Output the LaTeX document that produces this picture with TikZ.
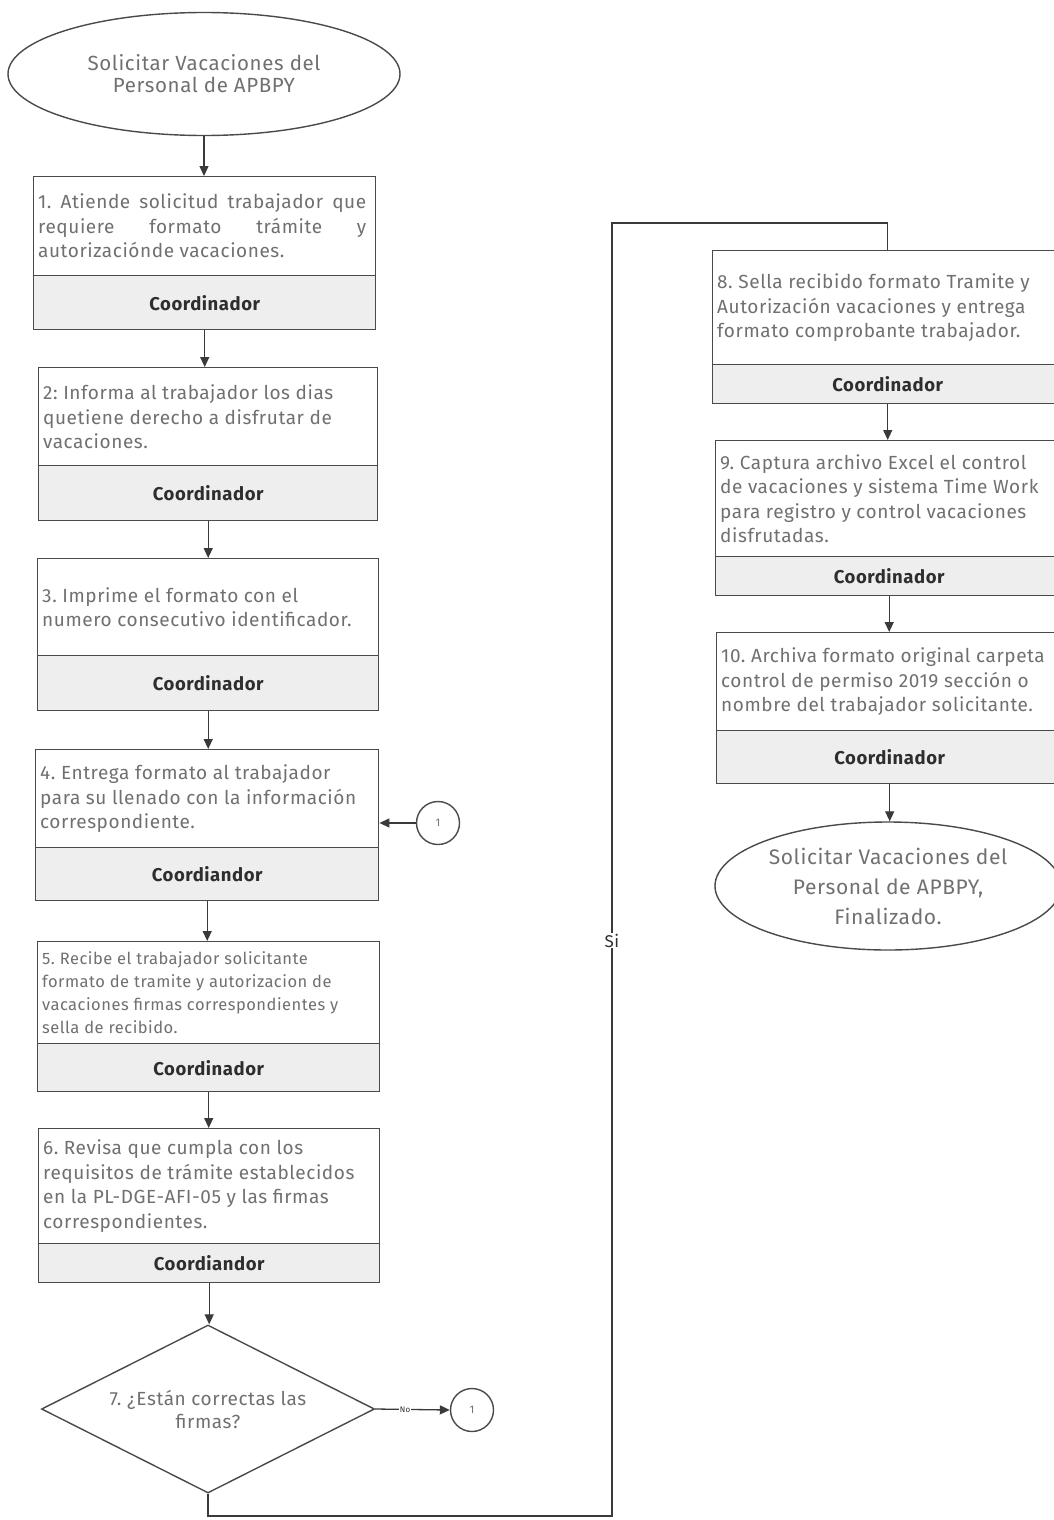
\documentclass[tikz,border=0pt]{standalone}
\usepackage{fontspec}
\setmainfont{Fira Sans}[LetterSpace=3.0]
\usetikzlibrary{arrows.meta,shapes.geometric}
\frenchspacing
\definecolor{boxline}{HTML}{4A4A4A}
\definecolor{band}{HTML}{EEEEEE}
\definecolor{bodytext}{HTML}{707070}
\definecolor{roletext}{HTML}{2E2E2E}
\definecolor{linecol}{HTML}{3A3A3A}
\newcommand{\bodyfont}{\fontsize{19}{24.5}\selectfont}
\newcommand{\smallbody}{\fontsize{16.5}{23}\selectfont}
\newcommand{\rolefont}{\fontsize{18.5}{20}\selectfont\bfseries}
% process box: name, left, right, top, divider, bottom, role, text font, text
\newcommand{\procbox}[9]{%
  \node[textpart, minimum width={#3-#2}, minimum height={#5-#4}, anchor=north west] (#1) at (#2,#4) {};
  \node[rolepart, minimum width={#3-#2}, minimum height={#6-#5}, anchor=north west] (#1r) at (#2,#5) {#7};
  \node[body, font=#8, xshift=5pt] (#1t) at (#1.west) {#9};
}
\tikzset{
  textpart/.style={draw=boxline, line width=1.4pt, fill=white, inner sep=0pt},
  rolepart/.style={draw=boxline, line width=1.4pt, fill=band, inner sep=0pt, font=\rolefont, text=roletext},
  body/.style={anchor=west, align=left, inner sep=0pt, text=bodytext},
  terminal/.style={ellipse, draw=boxline, line width=1.4pt, inner sep=0pt, align=center, text=bodytext},
  decision/.style={diamond, draw=boxline, line width=1.4pt, inner sep=0pt, aspect=2, align=center, text=bodytext, font=\fontsize{19}{23}\selectfont},
  connector/.style={circle, draw=boxline, line width=1.4pt, inner sep=0pt, minimum size=43pt, text=bodytext, font=\fontsize{11}{12}\selectfont},
  arr/.style={draw=linecol, line width=1.3pt, -{Triangle[length=10pt,width=9pt]}},
  conn/.style={draw=linecol, line width=1.3pt},
  lbl/.style={fill=white, inner sep=1pt, text=roletext},
}
\begin{document}
\begin{tikzpicture}[x=1pt,y=-1pt]
\useasboundingbox (0,0) rectangle (1054,1520);

% left column
\node[terminal, minimum width=392pt, minimum height=123pt, font=\fontsize{20.5}{22}\selectfont] (start) at (204,74)
  {Solicitar Vacaciones del\\Personal de APBPY};

\procbox{b1}{33}{375}{176}{275}{329}{Coordinador}{\bodyfont}
  {\makebox[328pt][s]{1. Atiende solicitud trabajador que}\\
   \makebox[328pt][s]{requiere formato trámite y}\\
   autorizaciónde vacaciones.}
\procbox{b2}{38}{377}{367}{465}{520}{Coordinador}{\bodyfont}
  {2: Informa al trabajador los dias\\quetiene derecho a disfrutar de\\vacaciones.}
\procbox{b3}{37}{378}{558}{655}{710}{Coordinador}{\bodyfont}
  {3. Imprime el formato con el\\numero consecutivo identificador.}
\procbox{b4}{35}{378}{749}{847}{900}{Coordiandor}{\bodyfont}
  {4. Entrega formato al trabajador\\para su llenado con la información\\correspondiente.}
\procbox{b5}{37}{379}{941}{1043}{1091}{Coordinador}{\smallbody}
  {5. Recibe el trabajador solicitante\\formato de tramite y autorizacion de\\vacaciones firmas correspondientes y\\sella de recibido.}
\procbox{b6}{38}{379}{1128}{1243}{1282}{Coordiandor}{\bodyfont}
  {6. Revisa que cumpla con los\\requisitos de trámite establecidos\\en la PL-DGE-AFI-05 y las firmas\\correspondientes.}

\node[decision, minimum width=333pt, minimum height=168pt] (d7) at (208,1409)
  {7. ¿Están correctas las\\firmas?};

\node[connector] (k1) at (438,823) {1};
\node[connector] (k2) at (472,1410) {1};

% right column
\procbox{b8}{712}{1062}{250}{364}{403}{Coordinador}{\bodyfont}
  {8. Sella recibido formato Tramite y\\Autorización vacaciones y entrega\\formato comprobante trabajador.}
\procbox{b9}{715}{1062}{440}{556}{595}{Coordinador}{\bodyfont}
  {9. Captura archivo Excel el control\\de vacaciones y sistema Time Work\\para registro y control vacaciones\\disfrutadas.}
\procbox{b10}{716}{1062}{632}{730}{783}{Coordinador}{\bodyfont}
  {10. Archiva formato original carpeta\\control de permiso 2019 sección o\\nombre del trabajador solicitante.}

\node[terminal, minimum width=346pt, minimum height=128pt, font=\fontsize{21}{30}\selectfont] (end) at (888,886)
  {Solicitar Vacaciones del\\Personal de APBPY,\\Finalizado.};

% bend points of the "Si" branch
\coordinate (s1) at (612,1516);
\coordinate (s2) at (612,223);

% connectors
\draw[arr] (start.south) -- (start.south |- b1.north);
\draw[arr] (b1r.south) -- (b1r.south |- b2.north);
\draw[arr] (b2r.south) -- (b2r.south |- b3.north);
\draw[arr] (b3r.south) -- (b3r.south |- b4.north);
\draw[arr] (b4r.south) -- (b4r.south |- b5.north);
\draw[arr] (b5r.south) -- (b5r.south |- b6.north);
\draw[arr] (b6r.south) -- (b6r.south |- d7.north);
\draw[arr] (k1.west) -- (k1.west -| b4.east);
\draw[arr] (d7.east) -- node[lbl, font=\fontsize{8}{9}\selectfont, pos=0.4] {No} (k2.west);
\draw[conn] (d7.south) |- (s1) -- node[lbl, font=\fontsize{17}{18}\selectfont, pos=0.445] {Si} (s2) -| (b8.north);
\draw[arr] (b8r.south) -- (b8r.south |- b9.north);
\draw[arr] (b9r.south) -- (b9r.south |- b10.north);
\draw[arr] (b10r.south) -- (b10r.south |- end.north);
\end{tikzpicture}
\end{document}
